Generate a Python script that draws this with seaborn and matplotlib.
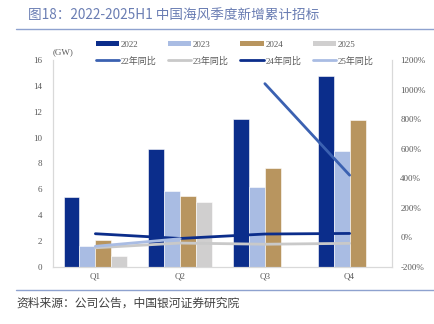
import numpy as np
import pandas as pd
import matplotlib
matplotlib.use("Agg")
import matplotlib.pyplot as plt
import seaborn as sns
from matplotlib.patches import Patch
from matplotlib.lines import Line2D

# ---- data ----
quarters = ["Q1", "Q2", "Q3", "Q4"]
years = ["2022", "2023", "2024", "2025"]
bids_2022 = [5.4, 9.15, 11.42, 14.74]
bids_2023 = [1.64, 5.86, 6.2, 8.97]
bids_2024 = [2.05, 5.48, 7.66, 11.36]
bids_2025 = [0.82, 5.01, np.nan, np.nan]

yoy_names = ["22年同比", "23年同比", "24年同比", "25年同比"]
yoy_22 = [np.nan, np.nan, 1040, 421]
yoy_23 = [-70, -38, -46, -40]
yoy_24 = [25, -7, 23, 27]
yoy_25 = [-60, -9, np.nan, np.nan]

left_ticks = [0, 2, 4, 6, 8, 10, 12, 14, 16]
right_ticks = [-200, 0, 200, 400, 600, 800, 1000, 1200]

bar_colors = ["#0b2d8b", "#a9bce3", "#b8955f", "#d0cfcf"]
line_colors = ["#3b61b1", "#c9c9c9", "#0b2d8b", "#a9bce3"]

sns.set_theme(style="white")
plt.rcParams["font.family"] = ["Liberation Serif", "Noto Sans CJK SC", "DejaVu Sans"]

bars = pd.DataFrame({
    "quarter": np.repeat(quarters, len(years)),
    "year": years * len(quarters),
    "value": np.array([bids_2022, bids_2023, bids_2024, bids_2025]).T.ravel(),
})
pos = {q: i for i, q in enumerate(quarters)}
lines = pd.DataFrame({
    "quarter": quarters * 4,
    "series": np.repeat(yoy_names, len(quarters)),
    "value": np.concatenate([yoy_22, yoy_23, yoy_24, yoy_25]),
})
lines["x"] = lines["quarter"].map(pos)
lines = lines.dropna()

fig = plt.figure(figsize=(4.34, 3.24), dpi=100)
ax = fig.add_axes([53 / 434, 1 - 267 / 324, 339 / 434, 207 / 324])

sns.barplot(data=bars, x="quarter", y="value", hue="year", order=quarters,
            hue_order=years, palette=bar_colors, width=0.75, ax=ax,
            legend=False, saturation=1, edgecolor="white", linewidth=0.4)
ax.set_xlim(-0.5, 3.5)
ax.set_ylim(0, 16)
ax.set_yticks(left_ticks)
ax.set_xlabel("")
ax.set_ylabel("")
ax.tick_params(axis="both", length=0, labelsize=6.5, colors="#595959")
ax.tick_params(axis="y", pad=8)
ax.tick_params(axis="x", pad=4)

ax2 = ax.twinx()
sns.lineplot(data=lines, x="x", y="value", hue="series", hue_order=yoy_names,
             palette=line_colors, linewidth=2.0, ax=ax2, legend=False, sort=False)
ax2.set_xlim(-0.5, 3.5)
ax2.set_ylim(-200, 1200)
ax2.set_yticks(right_ticks)
ax2.set_yticklabels([f"{t}%" for t in right_ticks])
ax2.set_ylabel("")
ax2.tick_params(axis="y", length=0, labelsize=6.5, colors="#595959", pad=6)

for a in (ax, ax2):
    a.spines["top"].set_visible(False)
    a.spines["left"].set_color("#d9d9d9")
    a.spines["right"].set_color("#d9d9d9")
    a.spines["bottom"].set_color("#d9d9d9")
    for s in a.spines.values():
        s.set_linewidth(0.8)

ax.text(0.0, 1.02, "(GW)", transform=ax.transAxes, fontsize=6.5, color="#595959",
        ha="left", va="bottom")

handles = []
for i in range(4):
    handles.append(Patch(facecolor=bar_colors[i], edgecolor="none", label=years[i]))
    handles.append(Line2D([0], [0], color=line_colors[i], lw=2.0, label=yoy_names[i]))
fig.legend(handles=handles, ncol=4, loc="upper left",
           bbox_to_anchor=(92 / 434, 1 - 37 / 324), frameon=False,
           fontsize=6.5, handlelength=2.6, handleheight=0.6, handletextpad=0.15,
           columnspacing=1.3, labelspacing=0.85, borderaxespad=0,
           labelcolor="#595959")

fig.text(28 / 434, 1 - 15 / 324, "图18：2022-2025H1 中国海风季度新增累计招标",
         fontsize=9.8, color="#6a7db3", ha="left", va="center",
         family=["Noto Sans CJK SC", "DejaVu Sans"])
fig.add_artist(Line2D([16 / 434, 1], [1 - 29 / 324] * 2, color="#8ea2cf", lw=1.0))
fig.add_artist(Line2D([16 / 434, 1], [1 - 290 / 324] * 2, color="#8ea2cf", lw=1.0))
fig.text(16 / 434, 1 - 303 / 324, "资料来源：公司公告，中国银河证券研究院",
         fontsize=8.5, color="#404040", ha="left", va="center", style="italic",
         family=["Noto Sans CJK SC", "DejaVu Sans"])

fig.savefig("out.png", dpi=100, facecolor="white")
